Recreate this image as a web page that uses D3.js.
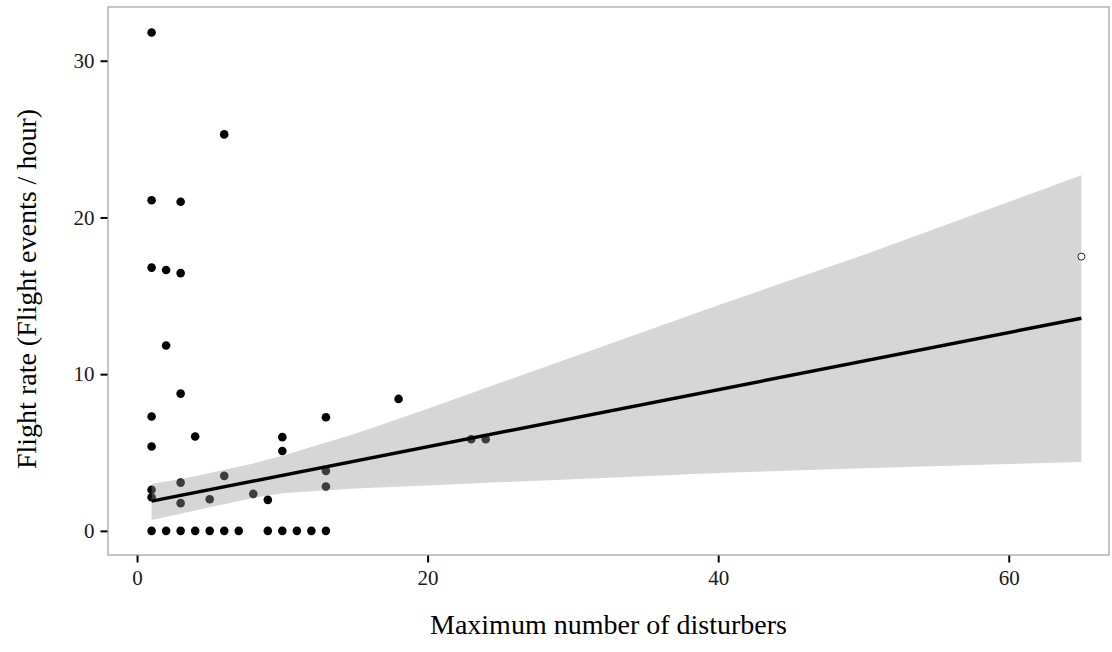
<!DOCTYPE html>
<html>
<head>
<meta charset="utf-8">
<script src="https://cdn.jsdelivr.net/npm/d3@7"></script>
<style>
  html, body { margin: 0; padding: 0; background: #fff; }
  svg { display: block; }
  text { font-family: "Liberation Serif", "Times New Roman", serif; }
</style>
</head>
<body>
<svg id="chart" width="1112" height="652"></svg>
<script>
// ---- data ----
const pointX = [1, 6, 1, 3, 1, 2, 3, 2, 3, 1, 4, 1, 10, 10, 13, 18, 23, 24,
                1, 1, 3, 3, 5, 6, 8, 9, 13, 13,
                1, 2, 3, 4, 5, 6, 7, 9, 10, 11, 12, 13];
const pointY = [31.8, 25.3, 21.1, 21.0, 16.8, 16.65, 16.45, 11.83, 8.76, 7.3, 6.02, 5.38, 5.98, 5.1, 7.25, 8.42, 5.85, 5.85,
                2.62, 2.15, 3.08, 1.77, 2.02, 3.51, 2.36, 1.98, 3.83, 2.83,
                0, 0, 0, 0, 0, 0, 0, 0, 0, 0, 0, 0];
const outlierX = [65];
const outlierY = [17.5];
const fitX = [1, 65];
const fitY = [1.90, 13.57];
const bandX = [1, 3, 5, 8, 10, 15, 20, 30, 40, 50, 65];
const bandUpper = [3.0, 3.3, 3.7, 4.3, 4.8, 6.2, 7.8, 11.1, 14.4, 17.6, 22.7];
const bandLower = [0.7, 1.1, 1.5, 2.1, 2.4, 2.7, 2.9, 3.3, 3.7, 4.0, 4.4];
const xTicks = [0, 20, 40, 60];
const yTicks = [0, 10, 20, 30];
const xTitle = "Maximum number of disturbers";
const yTitle = "Flight rate (Flight events / hour)";

// ---- layout ----
const svg = d3.select("#chart");
const pLeft = 108, pRight = 1109, pTop = 7, pBottom = 555;
const x = d3.scaleLinear().domain([-2.0, 66.9]).range([pLeft, pRight]);
const y = d3.scaleLinear().domain([-1.54, 33.43]).range([pBottom, pTop]);

// points
const pts = pointX.map((v, i) => ({x: v, y: pointY[i]}));
svg.append("g").selectAll("circle").data(pts).join("circle")
  .attr("cx", d => x(d.x)).attr("cy", d => y(d.y)).attr("r", 4.3)
  .attr("fill", "#000");

// ribbon
const band = bandX.map((v, i) => ({x: v, lo: bandLower[i], hi: bandUpper[i]}));
svg.append("path").datum(band)
  .attr("d", d3.area().x(d => x(d.x)).y0(d => y(d.lo)).y1(d => y(d.hi)))
  .attr("fill", "#999999").attr("fill-opacity", 0.4);

// fit line
const fit = fitX.map((v, i) => ({x: v, y: fitY[i]}));
svg.append("path").datum(fit)
  .attr("d", d3.line().x(d => x(d.x)).y(d => y(d.y)))
  .attr("fill", "none").attr("stroke", "#000").attr("stroke-width", 3.4);

// outlier
const outs = outlierX.map((v, i) => ({x: v, y: outlierY[i]}));
svg.append("g").selectAll("circle").data(outs).join("circle")
  .attr("cx", d => x(d.x)).attr("cy", d => y(d.y)).attr("r", 3.5)
  .attr("fill", "#fff").attr("stroke", "#222").attr("stroke-width", 1);

// frame
svg.append("rect").attr("x", pLeft).attr("y", pTop)
  .attr("width", pRight - pLeft).attr("height", pBottom - pTop)
  .attr("fill", "none").attr("stroke", "#b3b3b3").attr("stroke-width", 1.5);

// axes
const xAxis = d3.axisBottom(x).tickValues(xTicks).tickSize(7).tickPadding(8).tickFormat(d3.format("d"));
const gx = svg.append("g").attr("transform", `translate(0,${pBottom + 0.5})`).call(xAxis);
const yAxis = d3.axisLeft(y).tickValues(yTicks).tickSize(7).tickPadding(6).tickFormat(d3.format("d"));
const gy = svg.append("g").attr("transform", `translate(${pLeft - 0.5},0)`).call(yAxis);
[gx, gy].forEach(g => {
  g.select(".domain").remove();
  g.selectAll(".tick line").attr("stroke", "#000").attr("stroke-width", 2);
  g.selectAll(".tick text").attr("fill", "#1a1a1a").style("font-size", "21px")
    .style("font-family", "'Liberation Serif', serif");
});

// titles
svg.append("text").attr("x", (pLeft + pRight) / 2).attr("y", 634)
  .attr("text-anchor", "middle").style("font-size", "28px").attr("fill", "#000")
  .text(xTitle);
svg.append("text").attr("transform", `translate(36,${(pTop + pBottom) / 2 + 8}) rotate(-90)`)
  .attr("text-anchor", "middle").style("font-size", "28px").attr("fill", "#000")
  .text(yTitle);
</script>
</body>
</html>
